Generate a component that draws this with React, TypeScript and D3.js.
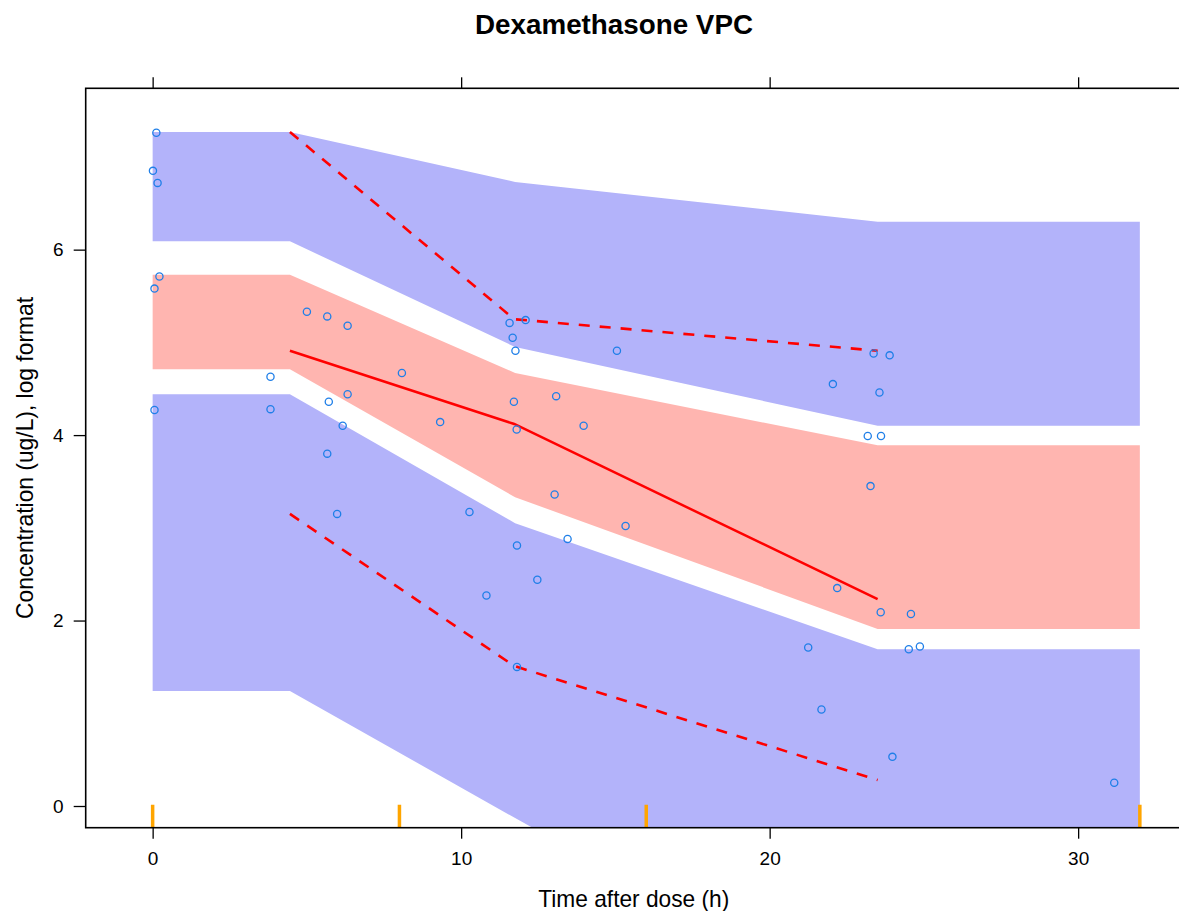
import React, { useEffect, useRef } from 'react';
import * as d3 from 'd3';

// simulated prediction intervals, evaluated at bin midpoints (flat to the ends)
const binTimes = [0, 4.45, 11.75, 23.5, 32];
const upperPiHi = [7.27, 7.27, 6.73, 6.3, 6.3];
const upperPiLo = [6.09, 6.09, 4.95, 4.1, 4.1];
const medianPiHi = [5.73, 5.73, 4.67, 3.89, 3.89];
const medianPiLo = [4.71, 4.71, 3.33, 1.91, 1.91];
const lowerPiHi = [4.44, 4.44, 3.05, 1.69, 1.69];
const lowerPiLo = [1.24, 1.24, -0.13, -2.3, -2.3];

// observed percentiles
const obsBinTimes = [4.45, 11.72, 23.5];
const obsMedian = [4.91, 4.12, 2.23];
const obsUpper = [7.27, 5.25, 4.91];
const obsLower = [3.15, 1.51, 0.28];

// bin boundaries (rug)
const binBreaks = [0, 8, 16, 32];

// observations
const obsTime = [
  0.12, 0.01, 0.16, 0.22, 0.06, 0.06, 3.82, 3.82, 5.0, 5.66, 6.32, 5.71, 6.32, 6.16,
  5.66, 5.98, 8.08, 9.32, 10.27, 10.82, 11.57, 12.09, 11.67, 11.76, 11.71, 11.8, 11.81,
  11.81, 12.47, 13.03, 13.08, 13.45, 13.97, 15.05, 15.33, 21.25, 21.68, 22.05, 22.19,
  23.18, 23.27, 23.37, 23.56, 23.61, 23.6, 23.89, 23.98, 24.51, 24.58, 24.87, 31.17,
];
const obsConc = [
  7.26, 6.85, 6.72, 5.71, 5.58, 4.27, 4.63, 4.28, 5.33, 5.28, 5.18, 4.36, 4.44, 4.1,
  3.8, 3.15, 4.67, 4.14, 3.17, 2.27, 5.21, 5.24, 5.05, 4.91, 4.36, 4.06, 2.81,
  1.5, 2.44, 3.36, 4.42, 2.88, 4.1, 4.91, 3.02, 1.71, 1.04, 4.55, 2.35,
  3.99, 3.45, 4.88, 4.46, 3.99, 2.09, 4.86, 0.53, 1.69, 2.07, 1.72, 0.25,
];

const xTicks = [0, 10, 20, 30];
const yTicks = [0, 2, 4, 6];

export default function App() {
  const svgRef = useRef<SVGSVGElement>(null);

  useEffect(() => {
    if (!svgRef.current) return;
    const root = d3.select(svgRef.current);
    root.selectAll('*').remove();

    const left = 85.7, top = 88.3, bottom = 827.7;
    const x = d3.scaleLinear().domain([-2.17, 33.35]).range([left, left + 35.52 * 30.85]);
    const y = d3.scaleLinear().domain([-0.234, 7.74]).range([bottom, top]);
    const right = x(33.35);

    root.append('defs').append('clipPath').attr('id', 'panel-clip')
      .append('rect')
      .attr('x', left).attr('y', top)
      .attr('width', right - left).attr('height', bottom - top);

    const panel = root.append('g').attr('clip-path', 'url(#panel-clip)');

    // prediction interval bands
    const band = (hi: number[], lo: number[]) =>
      d3.area<number>()
        .x((_, i) => x(binTimes[i]))
        .y0((_, i) => y(lo[i]))
        .y1((_, i) => y(hi[i]))(binTimes);

    panel.append('path').attr('d', band(upperPiHi, upperPiLo)).attr('fill', '#b3b3fa');
    panel.append('path').attr('d', band(lowerPiHi, lowerPiLo)).attr('fill', '#b3b3fa');
    panel.append('path').attr('d', band(medianPiHi, medianPiLo)).attr('fill', '#ffb5b0');

    // bin rug
    panel.selectAll('.rug')
      .data(binBreaks)
      .enter().append('line')
      .attr('x1', d => x(d)).attr('x2', d => x(d))
      .attr('y1', bottom).attr('y2', bottom - 23)
      .attr('stroke', '#ffa500')
      .attr('stroke-width', 3.5);

    // observed percentile lines
    const line = (vals: number[]) =>
      d3.line<number>()
        .x((_, i) => x(obsBinTimes[i]))
        .y((_, i) => y(vals[i]))(obsBinTimes);

    panel.append('path').attr('d', line(obsMedian))
      .attr('fill', 'none').attr('stroke', '#ff0000').attr('stroke-width', 2.5);
    [obsUpper, obsLower].forEach(vals => {
      panel.append('path').attr('d', line(vals))
        .attr('fill', 'none').attr('stroke', '#ff0000').attr('stroke-width', 2.6)
        .attr('stroke-dasharray', '11,10');
    });

    // observations
    panel.selectAll('.pt')
      .data(obsTime.map((t, i) => [t, obsConc[i]]))
      .enter().append('circle')
      .attr('cx', d => x(d[0]))
      .attr('cy', d => y(d[1]))
      .attr('r', 3.6)
      .attr('fill', 'none')
      .attr('stroke', '#1f7fe8')
      .attr('stroke-width', 1.3);

    // panel border
    root.append('rect')
      .attr('x', left).attr('y', top)
      .attr('width', right - left).attr('height', bottom - top)
      .attr('fill', 'none').attr('stroke', '#000').attr('stroke-width', 1.6);

    const styleAxis = (g: d3.Selection<SVGGElement, unknown, null, undefined>) => {
      g.select('.domain').remove();
      g.selectAll('line').attr('stroke', '#000').attr('stroke-width', 1.3);
      g.selectAll('text')
        .attr('fill', '#000')
        .attr('font-family', 'Liberation Sans, Arial, sans-serif')
        .attr('font-size', 19);
    };

    root.append('g')
      .attr('transform', `translate(0,${bottom})`)
      .call(d3.axisBottom(x).tickValues(xTicks).tickFormat(d3.format('d')).tickSize(11).tickPadding(13))
      .call(styleAxis);

    root.append('g')
      .attr('transform', `translate(0,${top})`)
      .call(d3.axisTop(x).tickValues(xTicks).tickFormat(() => '').tickSize(11))
      .call(styleAxis);

    root.append('g')
      .attr('transform', `translate(${left},0)`)
      .call(d3.axisLeft(y).tickValues(yTicks).tickFormat(d3.format('d')).tickSize(12).tickPadding(10))
      .call(styleAxis);

    // titles
    root.append('text')
      .attr('x', 614).attr('y', 33.5)
      .attr('text-anchor', 'middle')
      .attr('font-family', 'Liberation Sans, Arial, sans-serif')
      .attr('font-weight', 'bold')
      .attr('font-size', 28)
      .attr('textLength', 278)
      .attr('lengthAdjust', 'spacingAndGlyphs')
      .text('Dexamethasone VPC');

    root.append('text')
      .attr('x', 633.8).attr('y', 906.7)
      .attr('text-anchor', 'middle')
      .attr('font-family', 'Liberation Sans, Arial, sans-serif')
      .attr('font-size', 24)
      .attr('textLength', 191)
      .attr('lengthAdjust', 'spacingAndGlyphs')
      .text('Time after dose (h)');

    root.append('text')
      .attr('transform', `translate(32.5,${(top + bottom) / 2}) rotate(-90)`)
      .attr('text-anchor', 'middle')
      .attr('font-family', 'Liberation Sans, Arial, sans-serif')
      .attr('font-size', 24)
      .attr('textLength', 322)
      .attr('lengthAdjust', 'spacingAndGlyphs')
      .text('Concentration (ug/L), log format');
  }, []);

  return (
    <div style={{ position: 'absolute', left: 0, top: 0 }}>
      <svg ref={svgRef} width={1179} height={911} style={{ display: 'block', background: '#fff' }} />
    </div>
  );
}
